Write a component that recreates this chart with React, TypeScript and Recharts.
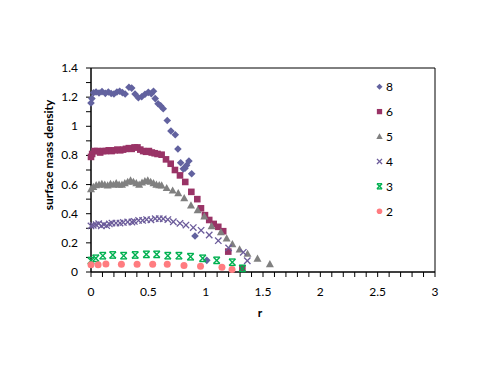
import React from "react";
import { ScatterChart, Scatter, XAxis, YAxis, ReferenceArea, Legend } from "recharts";

const FONT = "Lato, 'Open Sans', sans-serif";

// tick values (every 0.1), labelled ones listed separately
const X_TICKS = [
  0, 0.1, 0.2, 0.3, 0.4, 0.5, 0.6, 0.7, 0.8, 0.9, 1, 1.1, 1.2, 1.3, 1.4, 1.5,
  1.6, 1.7, 1.8, 1.9, 2, 2.1, 2.2, 2.3, 2.4, 2.5, 2.6, 2.7, 2.8, 2.9, 3,
];
const X_LABELS = [0, 0.5, 1, 1.5, 2, 2.5, 3];
const Y_TICKS = [0, 0.1, 0.2, 0.3, 0.4, 0.5, 0.6, 0.7, 0.8, 0.9, 1, 1.1, 1.2, 1.3, 1.4];
const Y_LABELS = [0, 0.2, 0.4, 0.6, 0.8, 1, 1.2, 1.4];

// series "8"
const R8 = [
  0, 0.008, 0.022, 0.044, 0.07, 0.096, 0.125, 0.151, 0.176, 0.2, 0.226, 0.25,
  0.274, 0.298, 0.331, 0.355, 0.384, 0.413, 0.442, 0.471, 0.5, 0.526, 0.545,
  0.56, 0.585, 0.608, 0.63, 0.665, 0.697, 0.735, 0.758, 0.782, 0.805, 0.82,
  0.834, 0.854, 0.878, 0.907, 1.01,
];
const D8 = [
  1.16, 1.19, 1.23, 1.235, 1.228, 1.238, 1.226, 1.235, 1.225, 1.222, 1.235, 1.24,
  1.231, 1.222, 1.268, 1.262, 1.222, 1.196, 1.203, 1.22, 1.233, 1.224, 1.24,
  1.19, 1.155, 1.14, 1.12, 1.04, 0.968, 0.942, 0.844, 0.75, 0.708, 0.712,
  0.733, 0.762, 0.674, 0.247, 0.08,
];

// series "6"
const R6 = [
  0, 0.01, 0.03, 0.055, 0.08, 0.105, 0.13, 0.155, 0.18, 0.205, 0.23, 0.255,
  0.28, 0.305, 0.33, 0.355, 0.38, 0.405, 0.43, 0.455, 0.48, 0.505, 0.53, 0.555,
  0.58, 0.616, 0.654, 0.695, 0.732, 0.776, 0.822, 0.875, 0.927, 0.959, 0.994,
  1.031, 1.07, 1.11, 1.153, 1.197, 1.32,
];
const D6 = [
  0.79, 0.81, 0.83, 0.83, 0.82, 0.83, 0.83, 0.835, 0.83, 0.835, 0.84, 0.835,
  0.84, 0.845, 0.85, 0.845, 0.855, 0.855, 0.84, 0.83, 0.825, 0.83, 0.82, 0.815,
  0.81, 0.805, 0.773, 0.743, 0.7, 0.663, 0.618, 0.55, 0.5, 0.437, 0.39,
  0.357, 0.33, 0.31, 0.28, 0.14, 0.025,
];

// series "5"
const R5 = [
  0, 0.02, 0.045, 0.07, 0.095, 0.12, 0.145, 0.17, 0.195, 0.22, 0.245, 0.27,
  0.295, 0.32, 0.345, 0.37, 0.395, 0.42, 0.445, 0.47, 0.495, 0.52, 0.545, 0.57,
  0.595, 0.616, 0.66, 0.712, 0.761, 0.813, 0.872, 0.93, 0.988, 1.052, 1.133,
  1.183, 1.233, 1.296, 1.365, 1.452, 1.56,
];
const D5 = [
  0.57, 0.585, 0.597, 0.6, 0.605, 0.6, 0.595, 0.605, 0.6, 0.61, 0.6, 0.6,
  0.61, 0.62, 0.63, 0.62, 0.61, 0.6, 0.615, 0.625, 0.63, 0.62, 0.61, 0.6,
  0.597, 0.595, 0.577, 0.56, 0.542, 0.508, 0.458, 0.425, 0.382, 0.316, 0.275,
  0.231, 0.192, 0.156, 0.126, 0.092, 0.055,
];

// series "4"
const R4 = [
  0, 0.02, 0.044, 0.067, 0.09, 0.113, 0.137, 0.16, 0.183, 0.218, 0.253, 0.282,
  0.32, 0.357, 0.378, 0.415, 0.45, 0.485, 0.523, 0.56, 0.595, 0.63, 0.67,
  0.718, 0.776, 0.828, 0.892, 0.96, 1.031, 1.11, 1.2, 1.328, 1.363,
];
const D4 = [
  0.316, 0.32, 0.325, 0.332, 0.316, 0.325, 0.318, 0.33, 0.336, 0.336, 0.336, 0.34,
  0.343, 0.343, 0.347, 0.354, 0.354, 0.36, 0.358, 0.366, 0.366, 0.365, 0.36,
  0.345, 0.334, 0.322, 0.305, 0.286, 0.254, 0.215, 0.165, 0.135, 0.077,
];

// series "3"
const R3 = [0, 0.042, 0.103, 0.19, 0.285, 0.385, 0.483, 0.573, 0.67, 0.767, 0.868, 0.974, 1.096, 1.232, 1.32];
const D3 = [0.078, 0.094, 0.112, 0.117, 0.112, 0.117, 0.121, 0.121, 0.112, 0.112, 0.105, 0.094, 0.08, 0.067, 0.025];

// series "2"
const R2 = [0, 0.062, 0.13, 0.265, 0.402, 0.538, 0.665, 0.811, 0.955, 1.142, 1.23];
const D2 = [0.05, 0.05, 0.055, 0.053, 0.053, 0.053, 0.053, 0.045, 0.04, 0.032, 0.018];

const zip = (r: number[], d: number[]) => r.map((x, i) => ({ r: x, d: d[i] }));

const SERIES = [
  { name: "8", data: zip(R8, D8), color: "#62629F", marker: "diamond" },
  { name: "6", data: zip(R6, D6), color: "#993366", marker: "square" },
  { name: "5", data: zip(R5, D5), color: "#808080", marker: "triangle" },
  { name: "4", data: zip(R4, D4), color: "#6B5B9A", marker: "x" },
  { name: "3", data: zip(R3, D3), color: "#00B050", marker: "star" },
  { name: "2", data: zip(R2, D2), color: "#FF7C80", marker: "circle" },
];

function drawMarker(kind: string, cx: number, cy: number, color: string, s = 1) {
  switch (kind) {
    case "diamond": {
      const h = 3.8 * s;
      return <polygon points={`${cx},${cy - h} ${cx + h},${cy} ${cx},${cy + h} ${cx - h},${cy}`} fill={color} />;
    }
    case "square": {
      const h = 3.3 * s;
      return <rect x={cx - h} y={cy - h} width={2 * h} height={2 * h} fill={color} />;
    }
    case "triangle": {
      const h = 4 * s;
      return <polygon points={`${cx},${cy - h} ${cx + h},${cy + h * 0.8} ${cx - h},${cy + h * 0.8}`} fill={color} />;
    }
    case "x": {
      const h = 3.2 * s;
      return (
        <g stroke={color} strokeWidth={1.3}>
          <line x1={cx - h} y1={cy - h} x2={cx + h} y2={cy + h} />
          <line x1={cx - h} y1={cy + h} x2={cx + h} y2={cy - h} />
        </g>
      );
    }
    case "star": {
      const h = 3.2 * s;
      return (
        <g stroke={color} strokeWidth={1.4}>
          <line x1={cx - h} y1={cy - h} x2={cx + h} y2={cy + h} />
          <line x1={cx - h} y1={cy + h} x2={cx + h} y2={cy - h} />
          <line x1={cx - h} y1={cy - h} x2={cx + h} y2={cy - h} />
          <line x1={cx - h} y1={cy + h} x2={cx + h} y2={cy + h} />
        </g>
      );
    }
    default:
      return <circle cx={cx} cy={cy} r={3.5 * s} fill={color} />;
  }
}

const isIn = (list: number[], v: number) => list.some((t) => Math.abs(t - v) < 1e-6);
const fmt = (v: number) => String(Math.round(v * 10) / 10);

// eslint-disable-next-line @typescript-eslint/no-explicit-any
const XTick = (props: any) => {
  const { x, y, payload } = props;
  if (!isIn(X_LABELS, payload.value)) return null;
  return (
    <text x={x} y={y + 17} textAnchor="middle" fill="#000" fontSize={12} fontFamily={FONT}>
      {fmt(payload.value)}
    </text>
  );
};

// eslint-disable-next-line @typescript-eslint/no-explicit-any
const YTick = (props: any) => {
  const { x, y, payload } = props;
  if (!isIn(Y_LABELS, payload.value)) return null;
  return (
    <text x={x - 6} y={y + 4} textAnchor="end" fill="#000" fontSize={12} fontFamily={FONT}>
      {fmt(payload.value)}
    </text>
  );
};

const LegendBox = () => (
  <svg width={40} height={150}>
    {SERIES.map((s, i) => {
      const cy = 11.7 + i * 24.9;
      return (
        <g key={s.name}>
          {drawMarker(s.marker, 9.5, cy, s.color, 0.8)}
          <text x={16} y={cy + 4.3} fontSize={12} fontFamily={FONT} fill="#000">
            {s.name}
          </text>
        </g>
      );
    })}
  </svg>
);

export default function App() {
  return (
    <div style={{ position: "absolute", left: 0, top: 0, width: 500, height: 375, background: "#fff" }}>
      <ScatterChart width={500} height={375} margin={{ top: 68, right: 65, bottom: 63, left: 0 }}>
        <XAxis
          type="number"
          dataKey="r"
          domain={[0, 3]}
          ticks={X_TICKS}
          interval={0}
          height={40}
          stroke="#000"
          tickSize={5}
          tick={<XTick />}
          label={{ value: "r", position: "insideBottom", offset: 0, content: () => (
            <text x={260} y={317} textAnchor="middle" fontSize={12} fontWeight="bold" fontFamily={FONT} fill="#000">r</text>
          ) }}
        />
        <YAxis
          type="number"
          dataKey="d"
          domain={[0, 1.4]}
          ticks={Y_TICKS}
          interval={0}
          width={91}
          stroke="#000"
          tickSize={5}
          tick={<YTick />}
          label={{ value: "surface mass density", content: () => (
            <text x={53} y={155} transform="rotate(-90 53 155)" textAnchor="middle" fontSize={12} fontWeight="bold" fontFamily={FONT} fill="#000">
              surface mass density
            </text>
          ) }}
        />
        <ReferenceArea x1={0} x2={3} y1={0} y2={1.4} fill="none" stroke="#000" strokeWidth={1} />
        <Legend
          layout="vertical"
          align="center"
          verticalAlign="middle"
          wrapperStyle={{ left: 370, top: 75, width: 40, height: 150 }}
          content={() => <LegendBox />}
        />
        {SERIES.map((s) => (
          <Scatter
            key={s.name}
            name={s.name}
            data={s.data}
            fill={s.color}
            isAnimationActive={false}
            // eslint-disable-next-line @typescript-eslint/no-explicit-any
            shape={(p: any) => drawMarker(s.marker, p.cx, p.cy, s.color)}
          />
        ))}
      </ScatterChart>
    </div>
  );
}
